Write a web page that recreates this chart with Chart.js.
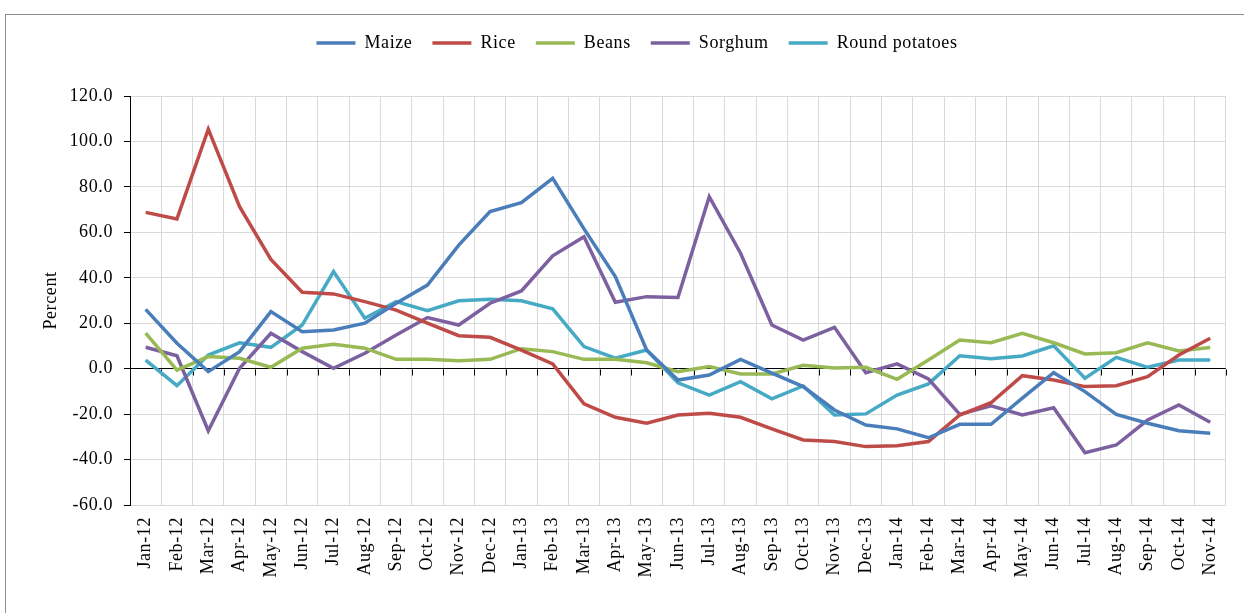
<!DOCTYPE html>
<html>
<head>
<meta charset="utf-8">
<script src="https://cdn.jsdelivr.net/npm/chart.js@4/dist/chart.umd.min.js"></script>
<style>
  html, body { margin: 0; padding: 0; background: #fff; overflow: hidden; }
  #wrap { position: relative; width: 1244px; height: 613px; }
  #frame { position: absolute; left: 5px; top: 14px; width: 1300px; height: 700px; border: 1px solid #8c8c8c; }
  #chart { position: absolute; left: 0; top: 0; }
</style>
</head>
<body>
<div id="wrap">
  <div id="frame"></div>
  <canvas id="chart" width="1244" height="613"></canvas>
</div>
<script>
'use strict';

// DATA
// ======================

var months = ['Jan-12','Feb-12','Mar-12','Apr-12','May-12','Jun-12','Jul-12','Aug-12','Sep-12','Oct-12','Nov-12','Dec-12',
  'Jan-13','Feb-13','Mar-13','Apr-13','May-13','Jun-13','Jul-13','Aug-13','Sep-13','Oct-13','Nov-13','Dec-13',
  'Jan-14','Feb-14','Mar-14','Apr-14','May-14','Jun-14','Jul-14','Aug-14','Sep-14','Oct-14','Nov-14']

var maize = [26.1, 11.2, -1.3, 7.5, 25.1, 16.3, 17.0, 20.0, 28.8, 36.8, 54.4, 69.1,
  73.1, 83.8, 61.5, 40.5, 8.2, -5.0, -2.8, 4.1, -2.0, -7.9, -18.2, -24.8,
  -26.5, -30.4, -24.5, -24.5, -13.0, -1.8, -10.1, -20.1, -24.0, -27.3, -28.4]

var rice = [68.8, 65.9, 105.4, 71.3, 48.1, 33.6, 32.9, 29.5, 25.8, 20.0, 14.5, 13.8,
  8.2, 2.1, -15.5, -21.4, -24.0, -20.4, -19.6, -21.4, -26.5, -31.4, -32.1, -34.3,
  -33.9, -32.1, -20.4, -15.0, -3.1, -5.0, -7.9, -7.5, -3.5, 6.0, 13.4]

var beans = [15.6, -0.6, 5.3, 4.6, 0.6, 9.0, 10.7, 9.0, 4.1, 4.1, 3.5, 4.1,
  8.8, 7.5, 4.1, 4.1, 2.6, -1.3, 0.9, -2.3, -2.3, 1.5, 0.3, 0.6,
  -4.7, 3.8, 12.6, 11.4, 15.6, 11.4, 6.5, 7.0, 11.4, 7.8, 9.3]

var sorghum = [9.4, 5.7, -27.3, 0.2, 15.6, 7.5, 0.2, 6.8, 14.8, 22.5, 19.2, 28.8,
  34.2, 49.7, 58.1, 29.2, 31.7, 31.3, 75.7, 50.8, 19.2, 12.6, 18.2, -1.8,
  2.1, -4.5, -20.1, -16.4, -20.4, -17.2, -37.0, -33.6, -22.6, -16.0, -23.6]

var potatoes = [3.8, -7.5, 6.0, 11.4, 9.4, 19.2, 42.7, 22.2, 29.5, 25.5, 29.9, 30.5,
  29.9, 26.3, 9.7, 4.6, 8.2, -6.2, -11.6, -5.7, -13.3, -7.6, -20.4, -19.9,
  -11.6, -6.7, 5.7, 4.4, 5.6, 10.1, -4.2, 5.0, 0.6, 3.8, 3.8]

var seriesNames = ['Maize', 'Rice', 'Beans', 'Sorghum', 'Round potatoes']
var seriesColors = ['#4a7ebb', '#be4b48', '#98b954', '#7d60a0', '#46aac5']
var seriesData = [maize, rice, beans, sorghum, potatoes]

// PLUGINS
// ======================

// push the plot area down below the legend
var legendGap = {
  id: 'legendGap',
  beforeInit: function (chart) {
    var fit = chart.legend.fit
    chart.legend.fit = function () {
      fit.bind(chart.legend)()
      this.height += 34
    }
  }
}

// the source text is set a little wide, so space the letters out
var wideText = {
  id: 'wideText',
  beforeUpdate: function (chart) { chart.ctx.letterSpacing = '0.6px' },
  beforeDraw: function (chart) { chart.ctx.letterSpacing = '0.6px' }
}

// small tick marks hanging under the zero line, at category borders
var zeroTicks = {
  id: 'zeroTicks',
  beforeDatasetsDraw: function (chart) {
    var x = chart.scales.x, y = chart.scales.y, ctx = chart.ctx
    var y0 = Math.round(y.getPixelForValue(0)) + 0.5
    var n = months.length
    ctx.save()
    ctx.strokeStyle = '#000'
    ctx.lineWidth = 1
    ctx.beginPath()
    for (var i = 0; i <= n; i++) {
      var px
      if (i === 0) px = x.left
      else if (i === n) px = x.right
      else px = (x.getPixelForValue(i - 1) + x.getPixelForValue(i)) / 2
      px = Math.round(px) + 0.5
      ctx.moveTo(px, y0)
      ctx.lineTo(px, y0 + 6)
    }
    ctx.stroke()
    ctx.restore()
  }
}

// CHART
// ======================

var font = { family: "'Liberation Serif', 'Times New Roman', serif", size: 18 }

new Chart(document.getElementById('chart'), {
  type: 'line',
  data: {
    labels: months,
    datasets: seriesData.map(function (d, i) {
      return {
        label: seriesNames[i],
        data: d,
        borderColor: seriesColors[i],
        backgroundColor: seriesColors[i],
        borderWidth: 3.5,
        pointRadius: 0,
        tension: 0,
        fill: false
      }
    })
  },
  options: {
    responsive: false,
    animation: false,
    layout: { padding: { left: 43, right: 13, top: 14, bottom: 0 } },
    plugins: {
      tooltip: { enabled: false },
      legend: {
        position: 'top',
        labels: {
          color: '#000',
          font: font,
          usePointStyle: true,
          pointStyle: 'line',
          pointStyleWidth: 39,
          boxHeight: 18,
          padding: 20
        }
      }
    },
    scales: {
      x: {
        offset: true,
        grid: { offset: true, color: '#d9d9d9', drawTicks: false, tickLength: 0 },
        border: { color: '#d9d9d9' },
        ticks: { color: '#000', font: font, minRotation: 90, maxRotation: 90, padding: 12, autoSkip: false },
        afterFit: function (scale) { scale.height = 108 }
      },
      y: {
        min: -60,
        max: 120,
        grid: {
          color: function (c) { return c.tick && c.tick.value === 0 ? '#000' : '#d9d9d9' },
          tickColor: '#000',
          tickLength: 6
        },
        border: { color: '#000' },
        ticks: {
          stepSize: 20,
          color: '#000',
          font: font,
          padding: 11,
          callback: function (v) { return v.toFixed(1) }
        },
        title: { display: true, text: 'Percent', color: '#000', font: font, padding: { top: -3, bottom: 0 } },
        afterFit: function (scale) { scale.width = 87 }
      }
    }
  },
  plugins: [wideText, legendGap, zeroTicks]
})
</script>
</body>
</html>
